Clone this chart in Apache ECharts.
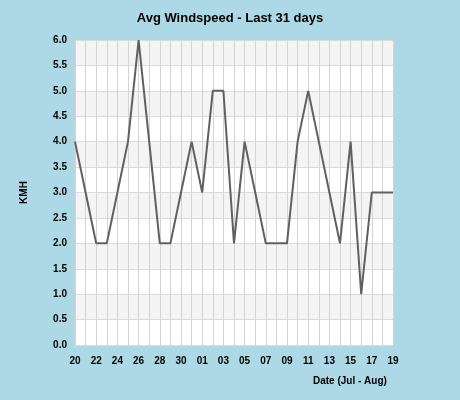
<!DOCTYPE html><html><head><script src="https://cdn.jsdelivr.net/npm/echarts@6/dist/echarts.min.js"></script></head><body style="margin:0;background:#add8e6"><div id="c" style="width:460px;height:400px"></div><script>
const categories=['20','21','22','23','24','25','26','27','28','29','30','31','01','02','03','04','05','06','07','08','09','10','11','12','13','14','15','16','17','18','19'];
const values=[4,3,2,2,3,4,6,4,2,2,3,4,3,5,5,2,4,3,2,2,2,4,5,4,3,2,4,1,3,3,3];
const c=echarts.init(document.getElementById('c'));
c.setOption({backgroundColor:'#add8e6',animation:false,
title:{text:'Avg Windspeed - Last 31 days',left:'center',top:2,textStyle:{fontSize:13,fontWeight:'bold',color:'#000',fontFamily:'Liberation Sans'}},
grid:{left:75,right:67,top:40,bottom:55,show:true,backgroundColor:'#fff',borderColor:'#ccc',borderWidth:1},
xAxis:{type:'category',data:categories,boundaryGap:false,name:'Date (Jul - Aug)',nameLocation:'end',nameGap:-80,
 nameTextStyle:{fontSize:10,fontWeight:'bold',color:'#000',verticalAlign:'top',padding:[28,0,0,0]},
 axisLine:{show:false},axisTick:{show:false},
 axisLabel:{interval:1,fontSize:10,fontWeight:'bold',color:'#000',margin:8},
 splitLine:{show:true,interval:0,lineStyle:{color:'#d4d4d4'}}},
yAxis:{type:'value',min:0,max:6,interval:0.5,name:'KMH',nameLocation:'middle',nameGap:42,nameTextStyle:{fontSize:10,fontWeight:'bold',color:'#000'},
 axisLine:{show:false},axisTick:{show:false},
 axisLabel:{formatter:v=>v.toFixed(1),fontSize:10,fontWeight:'bold',color:'#000'},
 splitLine:{lineStyle:{color:'#dcdcdc'}},splitArea:{show:true,areaStyle:{color:['#ffffff','#f4f4f4']}}},
series:[{type:'line',data:values,symbol:'none',lineStyle:{color:'#606060',width:2}}]});
</script></body></html>
